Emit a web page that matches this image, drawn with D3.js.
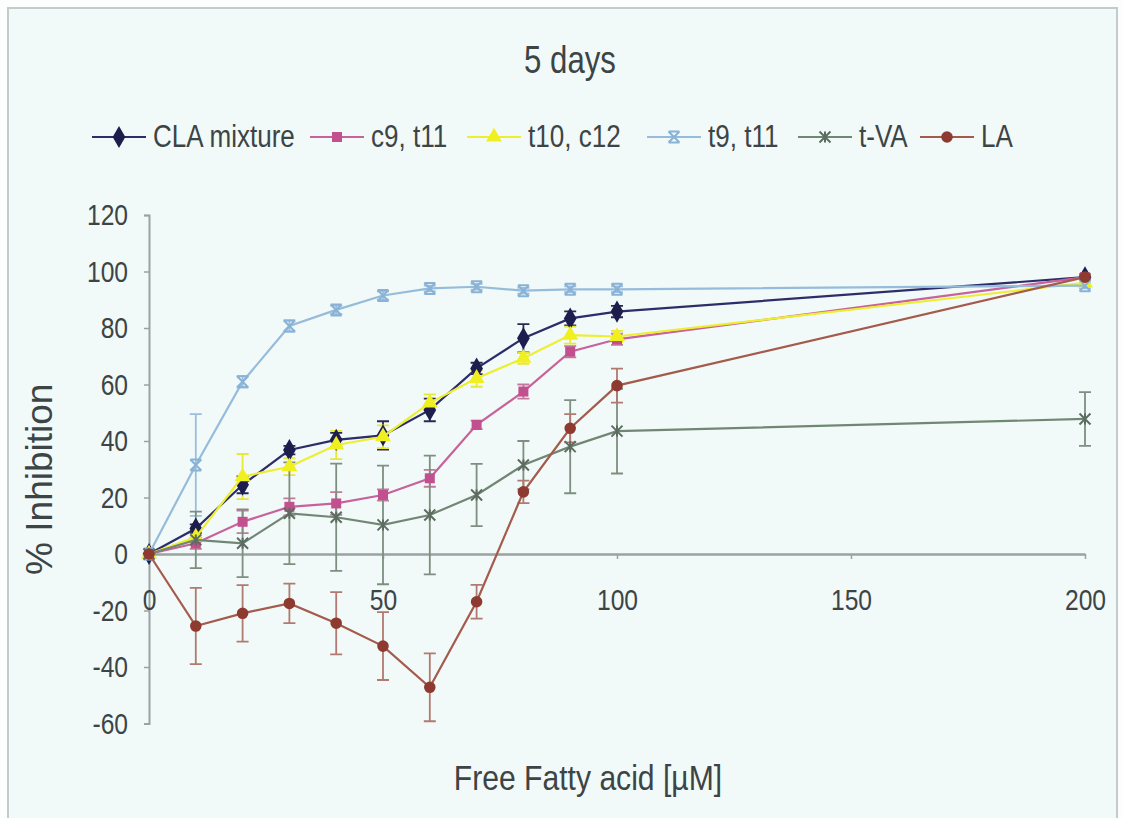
<!DOCTYPE html>
<html>
<head>
<meta charset="utf-8">
<script src="https://cdn.jsdelivr.net/npm/d3@7"></script>
<style>
  html, body { margin: 0; padding: 0; background: #fcfdfd; }
  svg { display: block; }
  text { font-family: "Liberation Sans", Arial, sans-serif; }
</style>
</head>
<body>
<svg id="chart" width="1123" height="818"></svg>
<script>
// Free fatty acid concentrations (µM)
const concentrations = [0, 10, 20, 30, 40, 50, 60, 70, 80, 90, 100, 200];

// % inhibition after 5 days, with error bar half-widths
const claMixture    = [0, 9, 24.5, 36.8, 40.4, 42, 51, 65.7, 76.4, 83.4, 85.8, 98];
const claMixtureErr = [0, 1.5, 3, 1.5, 2.5, 5, 4, 2, 5, 2.5, 2, 1];
const c9t11         = [0, 3.8, 11.4, 16.7, 17.9, 20.9, 26.8, 45.7, 57.5, 71.6, 76, 98];
const c9t11Err      = [0, 2, 4, 3, 4, 2, 3, 1.5, 2.5, 2, 2, 1];
const t10c12        = [0, 6, 27.4, 30.9, 38.6, 41.5, 53.5, 62.2, 69.3, 77.5, 77, 96];
const t10c12Err     = [0, 2, 8, 3, 5, 4, 3, 3, 2, 3, 2, 1];
const t9t11         = [0, 31.5, 61, 80.7, 86.4, 91.5, 94, 94.6, 93.2, 93.7, 93.7, 95];
const t9t11Err      = [0, 18, 2, 2, 1.5, 1.5, 1, 1, 1, 1, 1, 1];
const tVA           = [0, 5, 3.8, 14.4, 13, 10.3, 13.8, 20.9, 31.5, 38, 43.5, 47.8];
const tVAErr        = [0, 10, 12, 18, 19, 21, 21, 11, 8.5, 16.5, 15, 9.5];
const linoleic      = [0, -25.5, -21, -17.5, -24.5, -32.6, -47.2, -16.9, 22, 44.5, 59.6, 98];
const linoleicErr   = [0, 13.5, 10, 7, 11, 12, 12, 6, 4, 5, 6, 1];

const seriesNames = ["CLA mixture", "c9, t11", "t10, c12", "t9, t11", "t-VA", "LA"];
const xTicks = [0, 50, 100, 150, 200];
const yTicks = [-60, -40, -20, 0, 20, 40, 60, 80, 100, 120];

const series = [
  { name: seriesNames[0], values: claMixture, err: claMixtureErr, line: "#2c2d6a", fill: "#1d1e4e", errColor: "#2a2a50", symbol: d3.symbolDiamond, size: 140 },
  { name: seriesNames[1], values: c9t11, err: c9t11Err, line: "#c8629a", fill: "#c2508e", errColor: "#c47a9e", symbol: d3.symbolSquare, size: 100 },
  { name: seriesNames[2], values: t10c12, err: t10c12Err, line: "#eeee30", fill: "#f0f020", errColor: "#e8e838", symbol: d3.symbolTriangle, size: 110 },
  { name: seriesNames[3], values: t9t11, err: t9t11Err, line: "#96bcdc", fill: "#88b2d6", errColor: "#9cbedc", symbol: "cross-x", size: 11 },
  { name: seriesNames[4], values: tVA, err: tVAErr, line: "#728676", fill: "#5c6c60", errColor: "#7e8e80", symbol: "asterisk", size: 11 },
  { name: seriesNames[5], values: linoleic, err: linoleicErr, line: "#a45a4c", fill: "#8e3a30", errColor: "#b07a70", symbol: d3.symbolCircle, size: 105 }
];

const svg = d3.select("#chart");

// condensed lettering: squeeze each label horizontally
function condense(sel, factor) {
  sel.each(function () {
    const w = this.getComputedTextLength();
    d3.select(this).attr("textLength", w * factor).attr("lengthAdjust", "spacingAndGlyphs");
  });
}

// chart frame
svg.append("rect")
  .attr("x", 8).attr("y", 8).attr("width", 1109).attr("height", 830)
  .attr("fill", "#f1faf8").attr("stroke", "#c3cbcb").attr("stroke-width", 2);

const x = d3.scaleLinear().domain([0, 200]).range([149, 1085]);
const y = d3.scaleLinear().domain([-60, 120]).range([723.5, 215]);

// title
svg.append("text")
  .attr("x", 570).attr("y", 73)
  .attr("text-anchor", "middle")
  .attr("font-size", 38).attr("fill", "#3d4446")
  .text("5 days")
  .call(condense, 0.82);

// y axis
const yAxis = svg.append("g")
  .attr("transform", `translate(${x(0)},0)`)
  .call(d3.axisLeft(y).tickValues(yTicks).tickSize(5).tickPadding(16).tickFormat(d => String(d)));
yAxis.select(".domain").attr("stroke", "#9aa2a2").attr("stroke-width", 2);
yAxis.selectAll(".tick line").attr("stroke", "#9aa2a2").attr("stroke-width", 1.5);
yAxis.selectAll(".tick text")
  .attr("font-size", 30).attr("fill", "#3d4446")
  .call(condense, 0.82);

// x axis along zero
const xAxis = svg.append("g")
  .attr("transform", `translate(0,${y(0)})`)
  .call(d3.axisBottom(x).tickValues(xTicks).tickSize(5).tickPadding(30).tickSizeOuter(0).tickFormat(d => String(d)));
xAxis.select(".domain").attr("stroke", "#9aa2a2").attr("stroke-width", 2.5);
xAxis.selectAll(".tick line").attr("stroke", "#9aa2a2").attr("stroke-width", 1.5);
xAxis.selectAll(".tick text")
  .attr("font-size", 30).attr("fill", "#3d4446")
  .call(condense, 0.82);

// axis titles
svg.append("text")
  .attr("transform", `translate(52,${(y(120) + y(-60)) / 2 + 10}) rotate(-90)`)
  .attr("text-anchor", "middle")
  .attr("font-size", 37).attr("fill", "#3d4446")
  .text("% Inhibition");

svg.append("text")
  .attr("x", 588).attr("y", 790)
  .attr("text-anchor", "middle")
  .attr("font-size", 35).attr("fill", "#3d4446")
  .text("Free Fatty acid [\u00b5M]")
  .call(condense, 0.86);

// marker drawing helper
function drawMarker(g, s, cx, cy) {
  if (s.symbol === "cross-x") {
    const r = s.size / 2;
    g.append("path")
      .attr("d", `M${cx - r},${cy - r}L${cx + r},${cy + r}M${cx - r},${cy + r}L${cx + r},${cy - r}M${cx - r},${cy - r}L${cx + r},${cy - r}M${cx - r},${cy + r}L${cx + r},${cy + r}`)
      .attr("stroke", s.fill).attr("stroke-width", 2).attr("fill", "none");
  } else if (s.symbol === "asterisk") {
    const r = s.size / 2;
    g.append("path")
      .attr("d", `M${cx - r},${cy - r}L${cx + r},${cy + r}M${cx - r},${cy + r}L${cx + r},${cy - r}M${cx},${cy - r}L${cx},${cy + r}`)
      .attr("stroke", s.fill).attr("stroke-width", 2).attr("fill", "none");
  } else {
    g.append("path")
      .attr("d", d3.symbol().type(s.symbol).size(s.size)())
      .attr("transform", `translate(${cx},${cy})`)
      .attr("fill", s.fill);
  }
}

const plot = svg.append("g");
const line = d3.line().x(d => x(d[0])).y(d => y(d[1]));

// error bars first, then lines and markers
series.forEach(s => {
  const g = plot.append("g");
  concentrations.forEach((c, i) => {
    const e = s.err[i];
    if (!e) return;
    const cx = x(c), y1 = y(s.values[i] - e), y2 = y(s.values[i] + e);
    g.append("path")
      .attr("d", `M${cx},${y1}L${cx},${y2}M${cx - 6},${y1}L${cx + 6},${y1}M${cx - 6},${y2}L${cx + 6},${y2}`)
      .attr("stroke", s.errColor).attr("stroke-width", 1.8).attr("fill", "none");
  });
});

series.forEach(s => {
  const g = plot.append("g");
  g.append("path")
    .datum(concentrations.map((c, i) => [c, s.values[i]]))
    .attr("d", line)
    .attr("fill", "none")
    .attr("stroke", s.line)
    .attr("stroke-width", 2.2);
  concentrations.forEach((c, i) => drawMarker(g, s, x(c), y(s.values[i])));
});

// legend row: each entry is a short line with its marker, then the label
const legendStarts = [92, 310, 467, 647, 798, 920];
const ly = 137;
const legend = svg.append("g");
series.forEach((s, i) => {
  const lx = legendStarts[i];
  const item = legend.append("g");
  item.append("line")
    .attr("x1", lx).attr("x2", lx + 54).attr("y1", ly).attr("y2", ly)
    .attr("stroke", s.line).attr("stroke-width", 2.2);
  drawMarker(item, s, lx + 27, ly);
  item.append("text")
    .attr("x", lx + 61).attr("y", ly + 10)
    .attr("font-size", 31).attr("fill", "#3d4446")
    .text(s.name)
    .call(condense, 0.84);
});
</script>
</body>
</html>
